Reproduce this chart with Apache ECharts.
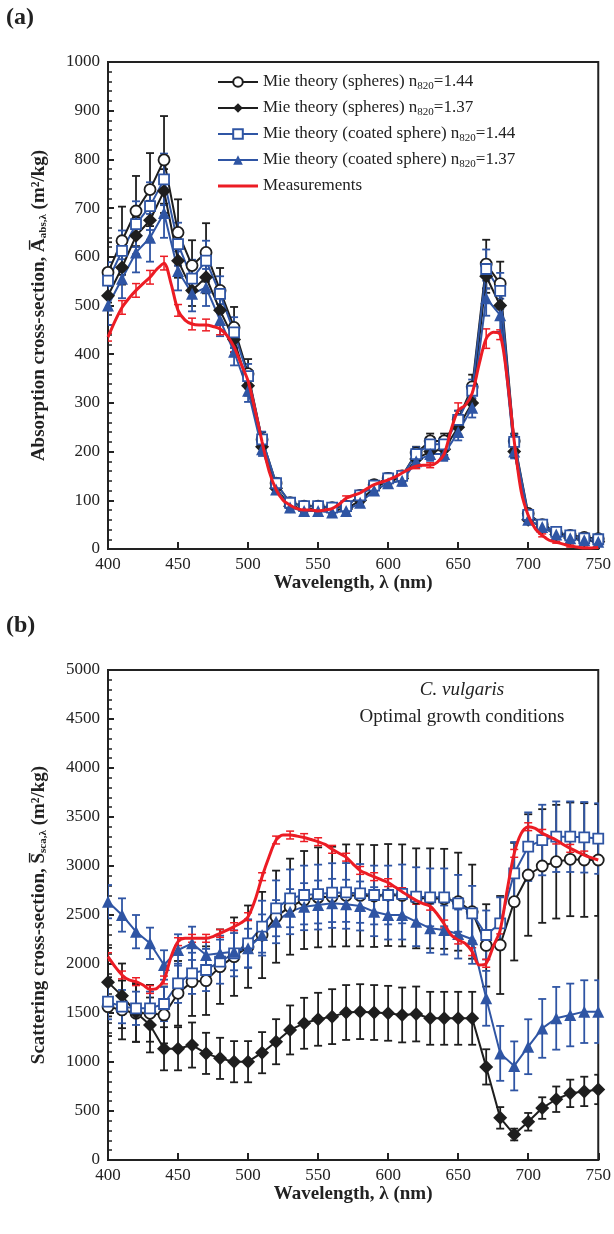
<!DOCTYPE html>
<html><head><meta charset="utf-8">
<script src="https://cdn.jsdelivr.net/npm/echarts@6/dist/echarts.min.js"></script>
<style>html,body{margin:0;padding:0;background:#fff}#c{width:614px;height:1234px}</style>
</head><body><div id="c"></div>
<script>
// ---------- data ----------
const wl = [400,410,420,430,440,450,460,470,480,490,500,510,520,530,540,550,560,570,580,590,600,610,620,630,640,650,660,670,680,690,700,710,720,730,740,750];
const wlMeas = [400,405,410,415,420,425,430,435,440,445,450,455,460,465,470,475,480,485,490,495,500,505,510,515,520,525,530,535,540,545,550,555,560,565,570,575,580,585,590,595,600,605,610,615,620,625,630,635,640,645,650,655,660,665,670,675,680,685,690,695,700,705,710,715,720,725,730,735,740,745,750];
const xTicks = [400,450,500,550,600,650,700,750];

// (a) absorption
const absSph144 = [568,633,694,738,799,650,582,609,531,455,360,225,135,95,88,88,85,88,110,132,145,150,197,222,222,266,333,585,545,222,73,50,34,28,24,21];
const absSph137 = [520,578,643,675,735,592,531,558,490,430,335,210,125,88,82,82,80,82,100,125,140,145,185,200,205,250,300,560,500,200,60,45,30,22,18,15];
const absCoat144 = [551,612,667,704,759,626,555,592,524,445,355,225,135,95,88,88,85,88,110,130,145,150,195,215,215,265,325,575,530,220,70,50,35,28,22,20];
const absCoat137 = [500,555,609,639,690,571,524,537,470,405,325,205,122,85,78,78,75,78,95,120,135,140,180,195,195,240,290,515,480,200,60,45,30,22,18,15];
const absMeas = [435,468,496,515,531,545,558,575,587,545,490,470,462,460,460,457,452,438,415,380,345,285,220,160,122,100,90,83,80,80,78,80,83,92,104,110,115,124,132,137,142,148,156,164,170,172,172,178,195,245,285,295,320,380,432,445,440,350,222,118,69,42,28,18,14,10,6,4,2,2,3];
const errAbsSph144 = [62,70,72,75,90,68,52,60,46,42,30,15,10,7,6,6,6,6,8,9,10,10,13,15,15,18,25,50,45,15,5,4,3,2,2,2];
const errAbsSph137 = [30,35,38,40,45,35,32,33,30,26,20,13,8,5,5,5,5,5,6,8,8,9,11,12,12,15,18,34,30,12,4,3,2,2,1,1];
const errAbsCoat144 = [38,42,47,49,53,44,39,41,36,31,25,16,9,7,6,6,6,6,8,9,10,10,14,15,15,19,23,40,37,15,5,4,3,2,2,2];
const errAbsCoat137 = [40,40,41,49,51,40,36,38,33,28,23,14,9,6,5,5,5,5,7,8,9,10,13,14,14,17,20,36,34,14,4,3,2,2,1,1];
const errAbsMeas = [8,14,14,14,14,12,12,12,12,10,8,6,5,5,5,5,5,5,5,5,5,5,5,5,8,15,18,20,10,6,4,3,2,2,2,2];

// (b) scattering
const scaSph144 = [1565,1531,1497,1497,1480,1701,1820,1830,1973,2075,2177,2296,2483,2585,2653,2680,2687,2700,2700,2694,2704,2700,2670,2670,2665,2636,2534,2190,2194,2636,2908,3000,3044,3068,3061,3061];
const scaSph137 = [1815,1675,1505,1378,1135,1135,1173,1088,1037,1003,1003,1095,1207,1327,1395,1436,1463,1505,1514,1505,1497,1480,1490,1446,1446,1446,1446,950,430,260,390,530,620,680,700,720];
const scaCoat144 = [1616,1565,1548,1548,1592,1803,1905,1939,2024,2109,2211,2381,2568,2670,2704,2714,2728,2730,2720,2704,2704,2715,2687,2680,2680,2619,2517,2296,2415,2925,3197,3265,3299,3299,3293,3280];
const scaCoat137 = [2636,2500,2330,2211,1990,2143,2211,2092,2109,2126,2160,2296,2432,2534,2585,2602,2619,2610,2592,2534,2500,2500,2432,2364,2347,2306,2252,1650,1088,960,1156,1343,1446,1480,1514,1514];
const scaMeas = [2075,1973,1888,1837,1820,1786,1740,1752,1837,2075,2228,2262,2262,2262,2262,2280,2313,2345,2381,2420,2483,2653,2891,3095,3265,3316,3316,3305,3290,3270,3248,3220,3170,3130,3090,3020,2955,2920,2891,2860,2830,2785,2738,2690,2650,2615,2590,2510,2408,2296,2245,2211,2126,1990,2007,2177,2347,2755,3129,3333,3401,3384,3333,3300,3265,3220,3180,3145,3112,3085,3061];
const errScaSph144 = [300,300,290,290,290,330,350,350,380,400,420,440,470,490,500,510,510,520,520,520,520,520,510,510,510,500,480,420,500,600,620,580,580,580,580,570];
const errScaSph137 = [350,330,300,280,220,220,230,210,210,210,210,210,230,250,260,270,280,280,280,280,280,280,280,270,270,270,270,180,110,60,90,110,130,140,150,150];
const errScaCoat144 = [180,170,170,170,175,200,210,215,225,235,245,265,285,295,300,300,300,300,300,300,300,300,300,295,295,290,280,250,265,320,350,360,360,360,360,360];
const errScaCoat137 = [170,170,170,160,150,160,170,170,180,190,200,210,220,230,240,250,250,250,250,250,250,250,250,250,250,250,250,280,280,250,280,300,320,320,320,320];
const errScaMeas = [40,40,40,40,40,40,40,40,40,40,40,40,40,40,40,40,40,40,40,40,40,40,40,40,40,40,40,40,40,40,40,40,40,40,40,40];

const names = [
  'Mie theory (spheres) n{s|820}=1.44',
  'Mie theory (spheres) n{s|820}=1.37',
  'Mie theory (coated sphere) n{s|820}=1.44',
  'Mie theory (coated sphere) n{s|820}=1.37',
  'Measurements'
];

// ---------- helpers ----------
const FONT = '"Liberation Serif", "Times New Roman", serif';
const BLACK = '#1e1e1e', BLUE = '#2f55a4', RED = '#ec1c24';
function pairs(xs, ys){ return xs.map((x,i)=>[x, ys[i]]); }
function errData(xs, ys, es){ return xs.map((x,i)=>[x, ys[i], es[i]]); }
function measAt10(vals){ return wl.map(w => vals[wlMeas.indexOf(w)]); }
function errSeries(idx, xs, ys, es, color, width){
  return {
    type:'custom', name:'err'+idx+color, xAxisIndex:idx, yAxisIndex:idx, z:1,
    silent:true, clip:true,
    data: errData(xs, ys, es),
    renderItem: function(params, api){
      const x = api.value(0), y = api.value(1), e = api.value(2);
      const top = api.coord([x, y+e]), bot = api.coord([x, y-e]);
      const cw = 4;
      const st = {stroke: color, lineWidth: width};
      return {type:'group', children:[
        {type:'line', shape:{x1:top[0], y1:top[1], x2:bot[0], y2:bot[1]}, style:st},
        {type:'line', shape:{x1:top[0]-cw, y1:top[1], x2:top[0]+cw, y2:top[1]}, style:st},
        {type:'line', shape:{x1:bot[0]-cw, y1:bot[1], x2:bot[0]+cw, y2:bot[1]}, style:st}
      ]};
    }
  };
}
function lineSeries(idx, name, ys, color, symbol, size, hollow){
  return {
    type:'line', name:name, xAxisIndex:idx, yAxisIndex:idx, z:3,
    data: pairs(wl, ys), symbol:symbol, symbolSize:size, showAllSymbol:true,
    lineStyle:{color:color, width:2},
    itemStyle: hollow ? {color:'#ffffff', borderColor:color, borderWidth:1.8, opacity:1}
                      : {color:color, borderWidth:0, opacity:1},
    emphasis:{disabled:true}, animation:false
  };
}
function measSeries(idx, xs, ys){
  return {
    type:'line', name:names[4], xAxisIndex:idx, yAxisIndex:idx, z:5,
    data: pairs(xs, ys), symbol:'none', smooth:0.3,
    lineStyle:{color:RED, width:3}, itemStyle:{color:RED},
    emphasis:{disabled:true}, animation:false
  };
}
function xAxis(idx){
  return {
    type:'value', gridIndex:idx, min:400, max:750, interval:50,
    name:'Wavelength, λ (nm)', nameLocation:'middle', nameGap:23,
    nameTextStyle:{fontFamily:FONT, fontSize:19, fontWeight:'bold', color:'#222'},
    axisLine:{show:true, onZero:false, lineStyle:{color:'#222', width:2}},
    axisTick:{show:true, inside:true, length:7, lineStyle:{color:'#222', width:2}},
    axisLabel:{fontFamily:FONT, fontSize:17, color:'#222', margin:7, formatter: v => String(v)},
    splitLine:{show:false}
  };
}
function yAxis(idx, max, interval, nameStr, gap){
  return {
    type:'value', gridIndex:idx, min:0, max:max, interval:interval,
    name:nameStr, nameLocation:'middle', nameGap:gap, nameRotate:90,
    nameTextStyle:{fontFamily:FONT, fontSize:19, fontWeight:'bold', color:'#222',
      rich:{
        b:{fontFamily:FONT, fontSize:19, fontWeight:'bold', color:'#222'},
        sub:{fontFamily:FONT, fontSize:11, fontWeight:'bold', color:'#222', verticalAlign:'bottom', padding:[8,0,0,0]}
      }},
    axisLine:{show:true, onZero:false, lineStyle:{color:'#222', width:2}},
    axisTick:{show:true, inside:true, length:6, lineStyle:{color:'#222', width:2}},
    minorTick:{show:true, splitNumber:5, length:4, lineStyle:{color:'#222', width:1.5}},
    axisLabel:{fontFamily:FONT, fontSize:17, color:'#222', margin:8, formatter: v => String(v)},
    splitLine:{show:false}
  };
}

const chart = echarts.init(document.getElementById('c'), null, {renderer:'canvas'});
const series = [];
// panel (a)
series.push(errSeries(0, wl, absSph144, errAbsSph144, BLACK, 1.8));
series.push(errSeries(0, wl, absSph137, errAbsSph137, BLACK, 1.8));
series.push(errSeries(0, wl, absCoat144, errAbsCoat144, BLUE, 1.8));
series.push(errSeries(0, wl, absCoat137, errAbsCoat137, BLUE, 1.8));
series.push(errSeries(0, wl, measAt10(absMeas), errAbsMeas, RED, 1.5));
series.push(lineSeries(0, names[0], absSph144, BLACK, 'circle', 11, true));
series.push(lineSeries(0, names[1], absSph137, BLACK, 'diamond', 14, false));
series.push(lineSeries(0, names[2], absCoat144, BLUE, 'rect', 10, true));
series.push(lineSeries(0, names[3], absCoat137, BLUE, 'triangle', 12, false));
series.push(measSeries(0, wlMeas, absMeas));
// panel (b)
series.push(errSeries(1, wl, scaSph144, errScaSph144, BLACK, 1.8));
series.push(errSeries(1, wl, scaSph137, errScaSph137, BLACK, 1.8));
series.push(errSeries(1, wl, scaCoat144, errScaCoat144, BLUE, 1.8));
series.push(errSeries(1, wl, scaCoat137, errScaCoat137, BLUE, 1.8));
series.push(errSeries(1, wl, measAt10(scaMeas), errScaMeas, RED, 1.5));
series.push(lineSeries(1, names[0], scaSph144, BLACK, 'circle', 11, true));
series.push(lineSeries(1, names[1], scaSph137, BLACK, 'diamond', 14, false));
series.push(lineSeries(1, names[2], scaCoat144, BLUE, 'rect', 10, true));
series.push(lineSeries(1, names[3], scaCoat137, BLUE, 'triangle', 12, false));
series.push(measSeries(1, wlMeas, scaMeas));

const barIcon = 'path://M0,0L0.01,0L0.01,0.01Z M0,4.5L40,4.5L40,7.5L0,7.5Z M0,12L0.01,12L0.01,11.99Z';

chart.setOption({
  animation:false,
  backgroundColor:'#fff',
  grid:[
    {left:108, right:15, top:62, height:487, show:true, borderColor:'#222', borderWidth:2, backgroundColor:'transparent'},
    {left:108, right:15, top:670, height:490, show:true, borderColor:'#222', borderWidth:2, backgroundColor:'transparent'}
  ],
  xAxis:[xAxis(0), xAxis(1)],
  yAxis:[
    yAxis(0, 1000, 100, '{b|Absorption cross-section, A\u0305}{sub|abs,λ}{b| (m²/kg)}', 59),
    yAxis(1, 5000, 500, '{b|Scattering cross-section, S\u0305}{sub|sca,λ}{b| (m²/kg)}', 59)
  ],
  legend:{
    show:true, orient:'vertical', left:212, top:67, itemWidth:40, itemHeight:12, itemGap:6,
    data:[names[0], names[1], names[2], names[3], {name:names[4], icon:barIcon}],
    selectedMode:false,
    textStyle:{fontFamily:FONT, fontSize:17, color:'#222', lineHeight:20,
      rich:{s:{fontFamily:FONT, fontSize:11, color:'#222', verticalAlign:'bottom', padding:[7,0,0,0]}}}
  },
  graphic:[
    {type:'text', left:6, top:6, style:{text:'(a)', font:'bold 24px "Liberation Serif"', fill:'#222'}},
    {type:'text', left:6, top:614, style:{text:'(b)', font:'bold 24px "Liberation Serif"', fill:'#222'}},
    {type:'text', x:462, y:690, style:{text:'C. vulgaris', font:'italic 19px "Liberation Serif"', fill:'#222', textAlign:'center', textVerticalAlign:'middle'}},
    {type:'text', x:462, y:717, style:{text:'Optimal growth conditions', font:'19px "Liberation Serif"', fill:'#222', textAlign:'center', textVerticalAlign:'middle'}}
  ],
  series:series
});
</script>
</body></html>
